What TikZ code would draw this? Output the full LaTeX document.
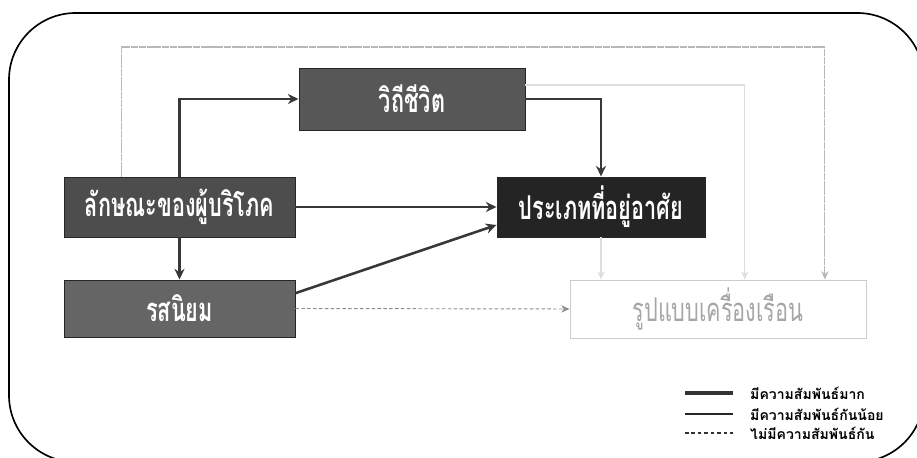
\documentclass[tikz,border=0pt]{standalone}
\usepackage{fontspec}
\usetikzlibrary{arrows.meta,calc}
\newfontfamily\thaibox[Script=Thai,FakeStretch=0.66]{Loma}
\newfontfamily\thaikey[Script=Thai]{Loma}
\definecolor{lifegray}{HTML}{575757}
\definecolor{consgray}{HTML}{4D4D4D}
\definecolor{tastegray}{HTML}{656565}
\definecolor{housegray}{HTML}{242424}

\begin{document}
\begin{tikzpicture}[x=0.03cm,y=-0.03cm,
  factor/.style={draw=black!85,line width=0.8pt,text=white,inner sep=0pt,
    font=\thaibox\bfseries\fontsize{28}{30}\selectfont},
  strong/.style={draw=black!78,line width=2.2pt,-{Stealth[length=0.32cm,width=0.3cm]}},
  faint/.style={draw=black!13,line width=1pt,-{Stealth[length=0.25cm,width=0.22cm]}},
  loose/.style={draw=black!45,line width=0.8pt,dash pattern=on 3pt off 2pt,-{Stealth[length=0.25cm,width=0.22cm]}},
  keytext/.style={anchor=west,inner sep=0pt,font=\thaikey\bfseries\fontsize{12}{13}\selectfont}]
\useasboundingbox (0,0) rectangle (917,458);
\draw[line width=1.4pt,rounded corners=2cm] (9,13) rectangle (924,462);

% factors
\node[factor,fill=lifegray,minimum width=6.78cm,minimum height=1.86cm] (life) at (412,99) {วิถีชีวิต};
\node[factor,fill=consgray,minimum width=6.93cm,minimum height=1.8cm] (cons) at (179.5,207) {ลักษณะของผู้บริโภค};
\node[factor,fill=housegray,minimum width=6.24cm,minimum height=1.8cm] (house) at (601,207) {ประเภทที่อยู่อาศัย};
\node[factor,fill=tastegray,minimum width=6.93cm,minimum height=1.71cm] (taste) at (179.5,308.5) {รสนิยม};
\node[draw=black!20,fill=white,line width=0.8pt,text=black!35,inner sep=0pt,minimum width=8.88cm,minimum height=1.74cm,
  font=\thaibox\fontsize{28}{30}\selectfont] (furn) at (718,309) {รูปแบบเครื่องเรือน};

% weak links to furniture
\coordinate (topline) at (500,47);
\coordinate (furnA) at ($(furn.north west)!0.86!(furn.north east)$);
\coordinate (furnB) at ($(furn.north west)!0.59!(furn.north east)$);
\draw[faint,draw=black!28,dash pattern=on 6pt off 0.6pt] ($(cons.north west)!0.25!(cons.north east)$) |- (topline) -| (furnA);
\draw[faint] ([yshift=0.42cm]life.east) -| (furnB);
\draw[faint] (house.south) -- (house.south |- furn.north);
\draw[loose] (taste.east) -- (furn.west);

% strong links
\draw[strong] (cons.north) |- (life.west);
\draw[strong] (cons.south) -- (taste.north);
\draw[strong] (life.east) -| (house.north);
\draw[strong] (cons.east) -- (house.west);
\draw[strong] ([yshift=0.46cm]taste.east) -- ([yshift=-0.54cm]house.west);

% key
\coordinate (k1) at (685,393); \coordinate (k1e) at (733,393);
\coordinate (k2) at (685,414); \coordinate (k2e) at (733,414);
\coordinate (k3) at (685,433); \coordinate (k3e) at (733,433);
\draw[black!80,line width=2.6pt] (k1) -- (k1e);
\draw[black!85,line width=1.3pt] (k2) -- (k2e);
\draw[black!80,line width=0.9pt,dash pattern=on 3pt off 2.5pt] (k3) -- (k3e);
\node[keytext] (t1) at (750,393) {มีความสัมพันธ์มาก};
\node[keytext] (t2) at (750,414) {มีความสัมพันธ์กันน้อย};
\node[keytext] (t3) at (750,433) {ไม่มีความสัมพันธ์กัน};
\end{tikzpicture}
\end{document}
